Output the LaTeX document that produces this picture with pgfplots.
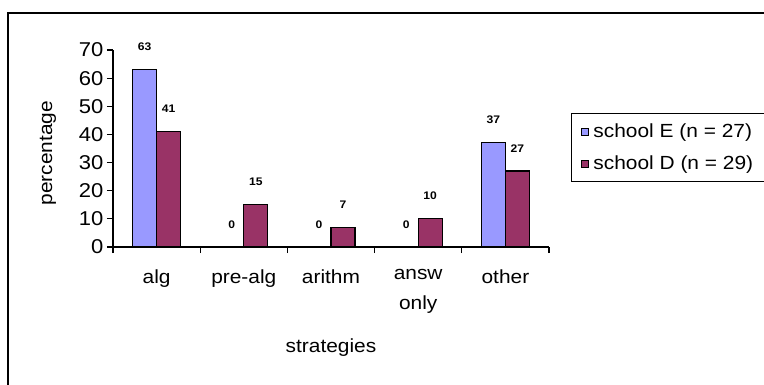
\documentclass[border=0pt]{standalone}
\usepackage{fontspec}
\setmainfont{Liberation Sans}[FakeStretch=1.1]
\usepackage{pgfplots}
\pgfplotsset{compat=1.18}
\definecolor{barE}{HTML}{9999FF}
\definecolor{barD}{HTML}{993366}
\begin{document}
\begin{tikzpicture}[x=1pt,y=1pt]
\useasboundingbox (0pt,0pt) rectangle (764pt,384pt);
\draw[line width=2pt] (8pt,-10pt) -- (8pt,371pt) -- (780pt,371pt);
\begin{axis}[
  at={(113pt,137pt)}, anchor=south west,
  scale only axis, width=436pt, height=197pt,
  xmin=-0.5, xmax=4.5, ymin=0, ymax=70,
  axis lines=left, axis line style={-, line width=1.2pt},
  ybar, bar width=24pt,
  xtick={0,1,2,3,4},
  xticklabels={alg, pre-alg, arithm, {answ\\only}, other},
  minor xtick={-0.5,0.5,1.5,2.5,3.5,4.5},
  major x tick style={draw=none},
  minor x tick style={line width=1.2pt, black},
  minor tick length=6pt,
  ytick={0,10,...,70},
  y tick style={line width=1.2pt, black},
  major tick length=6pt,
  tick align=outside,
  /pgf/number format/assume math mode=true,
  tick label style={font=\fontsize{20}{24}\selectfont},
  xticklabel style={align=center, font=\fontsize{19}{30}\selectfont, yshift=-13pt},
  xlabel={strategies},
  xlabel style={at={(axis description cs:0.5,-0.513)}, anchor=center, font=\fontsize{19}{23}\selectfont},
  ylabel={percentage},
  ylabel style={at={(axis description cs:-0.149,0.477)}, anchor=center, font=\fontsize{19}{23}\selectfont},
  nodes near coords,
  nodes near coords style={font=\fontsize{11}{13}\selectfont\bfseries, anchor=base, yshift=19pt},
  legend style={at={(axis description cs:1.0505,0.33)}, anchor=south west,
    draw=black, line width=1.2pt, font=\fontsize{19}{23}\selectfont,
    row sep=13pt, inner xsep=9pt, inner ysep=8pt,
    nodes={inner xsep=5pt}},
  legend cell align=left,
  legend image code/.code={\draw[#1,draw=black,line width=0.8pt] (0pt,-3.5pt) rectangle (7pt,3.5pt);},
  clip=false,
]
\addplot[fill=barE, draw=black, line width=1.2pt, bar shift=-12pt] coordinates {(0,63) (1,0) (2,0) (3,0) (4,37)};
\addplot[fill=barD, draw=black, line width=1.2pt, bar shift=12pt] coordinates {(0,41) (1,15) (2,7) (3,10) (4,27)};
\legend{school E (n = 27), school D (n = 29)}
\end{axis}
\end{tikzpicture}
\end{document}
